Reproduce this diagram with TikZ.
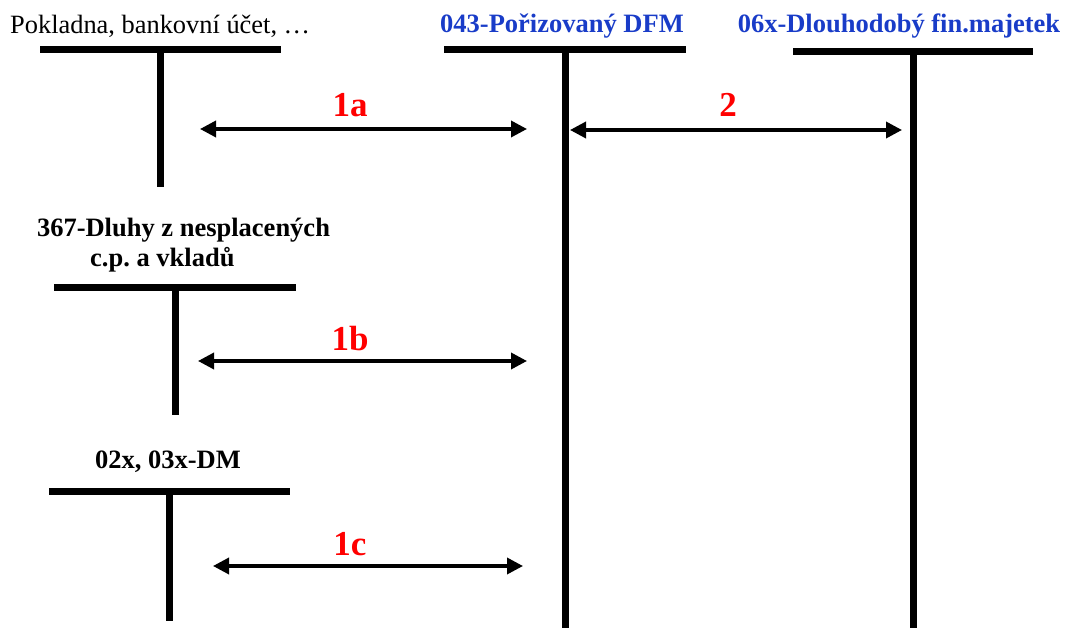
\documentclass[tikz,border=0pt]{standalone}
\usepackage{fontspec}
\setmainfont{Liberation Serif}
\usetikzlibrary{arrows.meta}
\frenchspacing
\definecolor{acctblue}{RGB}{25,60,200}
\definecolor{postred}{RGB}{255,0,0}
\tikzset{
  tbar/.style={line width=7pt},
  tstem/.style={line width=7pt},
  flow/.style={line width=3.5pt,
    {Triangle[length=16pt,width=16pt]}-{Triangle[length=16pt,width=16pt]}},
  plain/.style={inner sep=0pt, font=\fontsize{26.4}{30}\selectfont},
  acct/.style={inner sep=0pt, font=\fontsize{26.5}{30}\selectfont\bfseries},
  blueacct/.style={inner sep=0pt, text=acctblue, font=\fontsize{26.5}{30}\selectfont\bfseries},
  postno/.style={inner sep=0pt, text=postred, font=\fontsize{35}{40}\selectfont\bfseries},
}
\begin{document}
\begin{tikzpicture}[x=1pt,y=-1pt]
  \useasboundingbox (0,0) rectangle (1066,628);

  % account titles
  \node[plain, anchor=base west] (tPok) at (10,34) {Pokladna, bankovní účet, …};
  \node[blueacct, anchor=base] (tPor) at (562,33) {043-Pořizovaný DFM};
  \node[blueacct, anchor=base] (tDfm) at (899,33) {06x-Dlouhodobý fin.majetek};
  \node[acct, anchor=base] (tDlu) at (183.5,237) {367-Dluhy z nesplacených};
  \node[acct, anchor=base west] (tDlu2) at (90,267) {c.p. a vkladů};
  \node[acct, anchor=base] (tDm) at (168,468) {02x, 03x-DM};

  % T-accounts: Pokladna
  \coordinate (pokL) at (40,50);  \coordinate (pokR) at (281,50);
  \coordinate (pokT) at (160,50); \coordinate (pokB) at (160,187);
  \draw[tbar] (pokL) -- (pokR);
  \draw[tstem] (pokT) -- (pokB);

  % 043
  \coordinate (porL) at (444,50);  \coordinate (porR) at (686,50);
  \coordinate (porT) at (565,50);  \coordinate (porB) at (565,628);
  \draw[tbar] (porL) -- (porR);
  \draw[tstem] (porT) -- (porB);

  % 06x
  \coordinate (dfmL) at (793,52);  \coordinate (dfmR) at (1033,52);
  \coordinate (dfmT) at (913,52);  \coordinate (dfmB) at (913,628);
  \draw[tbar] (dfmL) -- (dfmR);
  \draw[tstem] (dfmT) -- (dfmB);

  % 367
  \coordinate (dluL) at (54,288);  \coordinate (dluR) at (296,288);
  \coordinate (dluT) at (175,288); \coordinate (dluB) at (175,415);
  \draw[tbar] (dluL) -- (dluR);
  \draw[tstem] (dluT) -- (dluB);

  % 02x, 03x
  \coordinate (dmL) at (49,491);  \coordinate (dmR) at (290,491);
  \coordinate (dmT) at (169,491); \coordinate (dmB) at (169,621);
  \draw[tbar] (dmL) -- (dmR);
  \draw[tstem] (dmT) -- (dmB);

  % postings
  \coordinate (a1s) at (200,129); \coordinate (a1e) at (527,129);
  \coordinate (a2s) at (570,130); \coordinate (a2e) at (902,130);
  \coordinate (b1s) at (198,361); \coordinate (b1e) at (527,361);
  \coordinate (c1s) at (213,566); \coordinate (c1e) at (523,566);
  \draw[flow] (a1s) -- (a1e);
  \draw[flow] (a2s) -- (a2e);
  \draw[flow] (b1s) -- (b1e);
  \draw[flow] (c1s) -- (c1e);

  \node[postno, anchor=base] (n1a) at (350,117) {1a};
  \node[postno, anchor=base] (n2)  at (728,117) {2};
  \node[postno, anchor=base] (n1b) at (350,351) {1b};
  \node[postno, anchor=base] (n1c) at (350,555) {1c};
\end{tikzpicture}
\end{document}
